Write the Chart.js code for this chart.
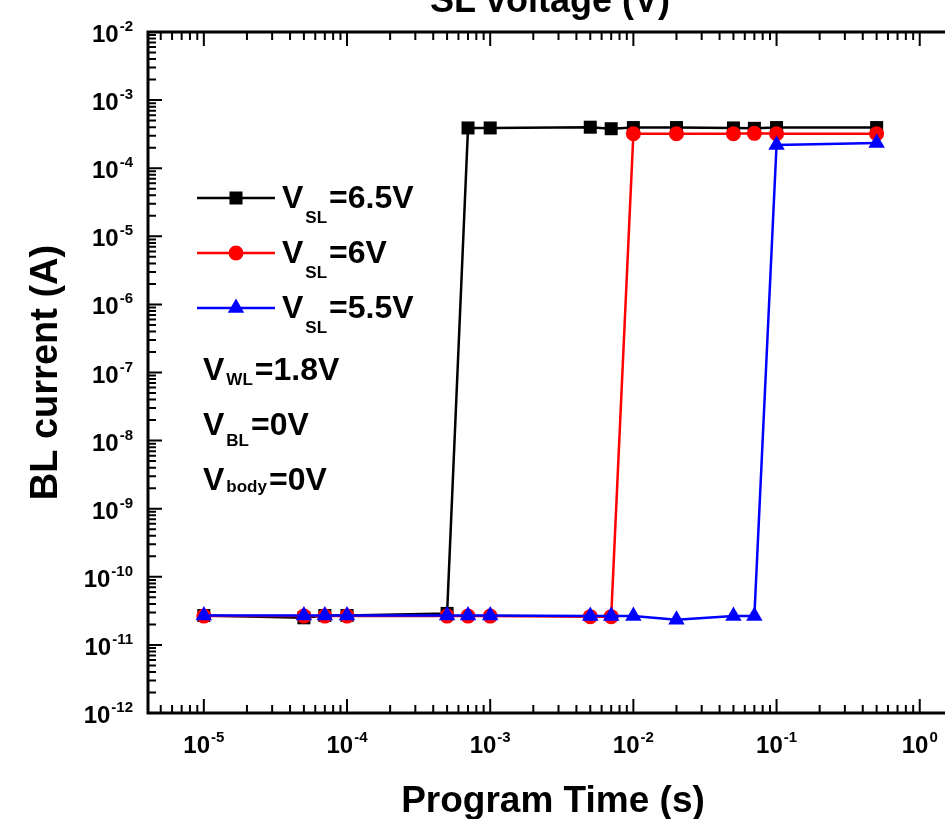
<!DOCTYPE html>
<html lang="en">
<head>
<meta charset="UTF-8">
<title>BL current vs program time</title>
<script src="https://cdn.jsdelivr.net/npm/chart.js"></script>
<style>
  html, body { margin:0; padding:0; background:#fff; overflow:hidden; }
  #wrap { position:relative; width:945px; height:819px; overflow:hidden; }
  canvas { position:absolute; left:0; top:0; }
</style>
</head>
<body>
<div id="wrap"><canvas id="chart" width="1000" height="819"></canvas></div>
<script>
// program time (s)
const times = [1e-5, 5e-5, 7e-5, 1e-4, 5e-4, 7e-4, 1e-3, 5e-3, 7e-3, 1e-2, 2e-2, 5e-2, 7e-2, 1e-1, 5e-1];
// BL current (A) for each SL voltage
const vsl65 = [2.7e-11, 2.5e-11, 2.7e-11, 2.7e-11, 2.9e-11, 3.9e-4, 3.9e-4, 4.0e-4, 3.8e-4, 3.95e-4, 3.95e-4, 3.9e-4, 3.85e-4, 3.95e-4, 3.95e-4];
const vsl60 = [2.65e-11, 2.65e-11, 2.65e-11, 2.65e-11, 2.65e-11, 2.65e-11, 2.65e-11, 2.6e-11, 2.6e-11, 3.2e-4, 3.2e-4, 3.2e-4, 3.25e-4, 3.2e-4, 3.2e-4];
const vsl55 = [2.7e-11, 2.7e-11, 2.7e-11, 2.7e-11, 2.7e-11, 2.7e-11, 2.7e-11, 2.65e-11, 2.65e-11, 2.65e-11, 2.35e-11, 2.65e-11, 2.65e-11, 2.2e-4, 2.35e-4];

const seriesLabels = ['=6.5V', '=6V', '=5.5V'];
const seriesColors = ['#000000', '#ff0000', '#0000ff'];
const seriesMarkers = ['rect', 'circle', 'triangle'];

const xDecades = [-5, -4, -3, -2, -1, 0];
const yDecades = [-12, -11, -10, -9, -8, -7, -6, -5, -4, -3, -2];

const FONT = 'Arial, "Liberation Sans", sans-serif';

function pts(vals) {
    return times.map((t, i) => ({ x: t, y: vals[i] }));
}

// marker shapes, same size as the dataset points
function marker(ctx, style, x, y, color) {
    ctx.fillStyle = color;
    ctx.beginPath();
    if (style === 'rect') {
        ctx.rect(x - 6.5, y - 6.5, 13, 13);
    } else if (style === 'circle') {
        ctx.arc(x, y, 7.5, 0, Math.PI * 2);
    } else {
        const r = 9.5;
        ctx.moveTo(x, y - r);
        ctx.lineTo(x + r * 0.866, y + r * 0.5);
        ctx.lineTo(x - r * 0.866, y + r * 0.5);
        ctx.closePath();
    }
    ctx.fill();
}

// "10" with a raised exponent; align is 'center' or 'right'
function powLabel(ctx, x, y, exp, align) {
    ctx.font = 'bold 24px ' + FONT;
    const wb = ctx.measureText('10').width;
    ctx.font = 'bold 15px ' + FONT;
    const we = ctx.measureText(String(exp)).width;
    const total = wb + we + 1;
    const x0 = align === 'right' ? x - total : x - total / 2;
    ctx.textAlign = 'left';
    ctx.textBaseline = 'alphabetic';
    ctx.font = 'bold 24px ' + FONT;
    ctx.fillText('10', x0, y);
    ctx.font = 'bold 15px ' + FONT;
    ctx.fillText(String(exp), x0 + wb + 1, y - 11);
}

// "V" with subscript and trailing text
function subLabel(ctx, x, y, sub, rest, subDrop) {
    ctx.textAlign = 'left';
    ctx.textBaseline = 'alphabetic';
    ctx.font = 'bold 32px ' + FONT;
    ctx.fillText('V', x, y);
    let cx = x + ctx.measureText('V').width + 2;
    ctx.font = 'bold 17px ' + FONT;
    ctx.fillText(sub, cx, y + subDrop);
    cx += ctx.measureText(sub).width + 2;
    ctx.font = 'bold 32px ' + FONT;
    ctx.fillText(rest, cx, y);
}

const frame = {
    id: 'frame',
    afterDraw(chart) {
        const { ctx, chartArea: a, scales: { x, y } } = chart;
        ctx.save();
        ctx.fillStyle = '#000';
        ctx.strokeStyle = '#000';

        // inward ticks on all four sides
        ctx.lineWidth = 2;
        ctx.beginPath();
        for (let d = -6; d <= 0; d++) {
            for (let m = 1; m < 10; m++) {
                const v = m * Math.pow(10, d);
                if (v < x.min || v > x.max) continue;
                const px = x.getPixelForValue(v);
                const len = m === 1 ? 14 : 8;
                ctx.moveTo(px, a.bottom); ctx.lineTo(px, a.bottom - len);
                ctx.moveTo(px, a.top); ctx.lineTo(px, a.top + len);
            }
        }
        for (let d = -12; d <= -2; d++) {
            for (let m = 1; m < 10; m++) {
                const v = m * Math.pow(10, d);
                if (v < y.min * 0.999 || v > y.max * 1.001) continue;
                const py = y.getPixelForValue(v);
                const len = m === 1 ? 14 : 8;
                ctx.moveTo(a.left, py); ctx.lineTo(a.left + len, py);
                ctx.moveTo(a.right, py); ctx.lineTo(a.right - len, py);
            }
        }
        ctx.stroke();

        ctx.lineWidth = 3;
        ctx.strokeRect(a.left, a.top, a.right - a.left, a.bottom - a.top);

        // tick labels
        xDecades.forEach(d => powLabel(ctx, x.getPixelForValue(Math.pow(10, d)), a.bottom + 40, d, 'center'));
        yDecades.forEach(d => powLabel(ctx, a.left - 15, y.getPixelForValue(Math.pow(10, d)) + 10, d, 'right'));

        // axis titles
        ctx.textAlign = 'center';
        ctx.textBaseline = 'alphabetic';
        ctx.font = 'bold 37px ' + FONT;
        ctx.fillText('Program Time (s)', 553, 812);
        ctx.font = 'bold 36px ' + FONT;
        ctx.fillText('SL voltage (V)', 550, 12);
        ctx.save();
        ctx.font = 'bold 38px ' + FONT;
        ctx.translate(57, (a.top + a.bottom) / 2);
        ctx.rotate(-Math.PI / 2);
        ctx.fillText('BL current (A)', 0, 0);
        ctx.restore();

        // legend
        const rows = [198, 253, 308];
        rows.forEach((ly, i) => {
            ctx.strokeStyle = seriesColors[i];
            ctx.lineWidth = 2.5;
            ctx.beginPath();
            ctx.moveTo(197, ly); ctx.lineTo(275, ly);
            ctx.stroke();
            marker(ctx, seriesMarkers[i], 236, ly, seriesColors[i]);
            ctx.fillStyle = '#000';
            subLabel(ctx, 282, ly + 10, 'SL', seriesLabels[i], 15);
        });

        // bias conditions
        subLabel(ctx, 203, 380, 'WL', '=1.8V', 5);
        subLabel(ctx, 203, 435, 'BL', '=0V', 11);
        subLabel(ctx, 203, 490, 'body', '=0V', 2);

        ctx.restore();
    }
};

function dataset(vals, i, r) {
    return {
        data: pts(vals),
        borderColor: seriesColors[i],
        backgroundColor: seriesColors[i],
        borderWidth: 2.5,
        pointStyle: seriesMarkers[i],
        pointRadius: r,
        pointHoverRadius: r,
        pointBorderWidth: 0,
        tension: 0,
        order: 3 - i
    };
}

new Chart(document.getElementById('chart'), {
    type: 'line',
    data: {
        datasets: [
            dataset(vsl65, 0, 9.2),
            dataset(vsl60, 1, 7.5),
            dataset(vsl55, 2, 9.5)
        ]
    },
    options: {
        responsive: false,
        animation: false,
        events: [],
        layout: { padding: { left: 148, top: 32, right: 23, bottom: 106 } },
        plugins: { legend: { display: false }, tooltip: { enabled: false } },
        scales: {
            x: { type: 'logarithmic', min: Math.pow(10, -5.39), max: Math.pow(10, 0.4), display: false },
            y: { type: 'logarithmic', min: 1e-12, max: 1e-2, display: false }
        }
    },
    plugins: [frame]
});
</script>
</body>
</html>
